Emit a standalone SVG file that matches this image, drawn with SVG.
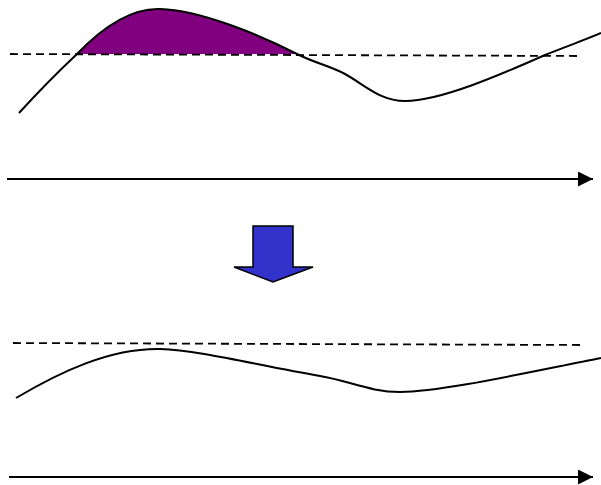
<svg xmlns="http://www.w3.org/2000/svg" width="601" height="485" viewBox="0 0 601 485">
<style>
.curve{fill:none;stroke:#000;stroke-width:2}
.dash{fill:none;stroke:#000;stroke-width:1.8;stroke-dasharray:8,5}
.axis{fill:none;stroke:#000;stroke-width:2}
</style>
<defs>
<marker id="ah" markerUnits="userSpaceOnUse" markerWidth="16" markerHeight="16" refX="15" refY="7.5" orient="auto">
<path d="M0,0 L15,7.5 L0,15 Z" fill="#000"/>
</marker>
</defs>
<g id="top-graph">
<path d="M77,54 C100,30 130,8 160,9 C200,10 260,35 297,54 Z" fill="#800080"/>
<path class="dash" d="M10,54 L578,56"/>
<path class="curve" d="M19,113 C40,90 60,70 77,54 C100,30 130,8 160,9 C200,10 260,35 297,54 C315,63 330,66 345,74 C365,85 380,101 405,101 C440,101 500,75 545,55 C570,45 590,38 601,33"/>
</g>
<g id="bottom-graph">
<path class="dash" d="M13,343 L580,345"/>
<path class="curve" d="M16,398 C60,372 110,348 160,349 C200,350 260,366 320,376 C350,381 370,392 400,392 C440,392 520,374 601,358"/>
</g>
<g id="block-arrow">
<path d="M253,226 L293,226 L293,267 L313,267 L273,282 L234,267 L253,267 Z" fill="#3333CC" stroke="#000" stroke-width="1.5" stroke-linejoin="miter"/>
</g>
<g id="connectors">
<path class="axis" d="M7,179 L593,179" marker-end="url(#ah)"/>
<path class="axis" d="M9,477 L593,477" marker-end="url(#ah)"/>
</g>
</svg>
